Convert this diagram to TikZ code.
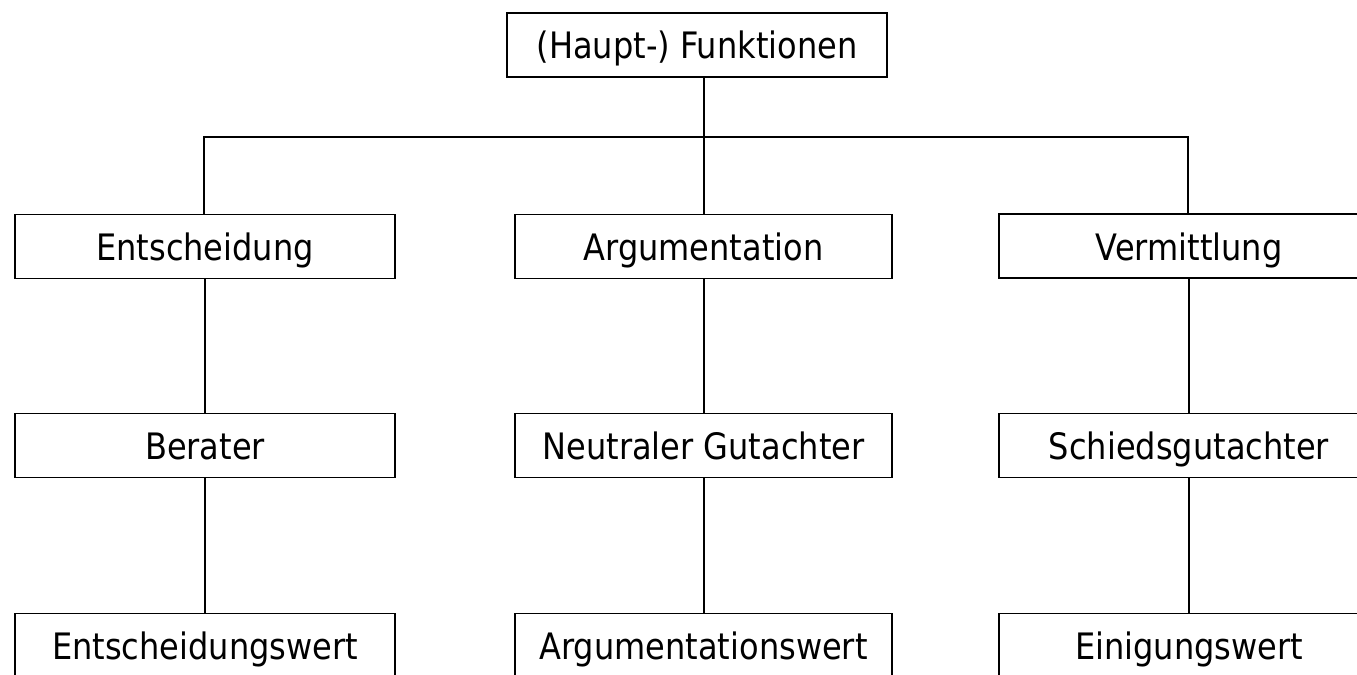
\documentclass[tikz,border=0pt]{standalone}
\usepackage{fontspec}
\setmainfont[FakeStretch=0.88]{DejaVu Sans}
\begin{document}
\begin{tikzpicture}[x=1bp,y=-1bp,
  box/.style={draw, line width=1.6bp, minimum width=380bp, minimum height=64bp,
    inner sep=0pt, text height=28bp, text depth=0pt,
    font=\fontsize{36.4bp}{40bp}\selectfont},
  link/.style={line width=1.6bp}]
\useasboundingbox (0,0) rectangle (1357,675);
\clip (0,0) rectangle (1357,675);
\node[box] (top) at (697,45) {(Haupt-) Funktionen};
\node[box] (e1) at (205,246.5) {Entscheidung};
\node[box, minimum width=377bp] (a1) at (703.5,246.5) {Argumentation};
\node[box] (v1) at (1189,246) {Vermittlung};
\node[box] (e2) at (205,445.5) {Berater};
\node[box, minimum width=377bp] (a2) at (703.5,445.5) {Neutraler Gutachter};
\node[box] (v2) at (1189,445.5) {Schiedsgutachter};
\node[box] (e3) at (205,645.5) {Entscheidungswert};
\node[box, minimum width=377bp] (a3) at (703.5,645.5) {Argumentationswert};
\node[box] (v3) at (1189,645.5) {Einigungswert};
\coordinate (hl) at (204,137);
\coordinate (hr) at (1188,137);
\coordinate (hm) at (704,137);
\draw[link] (hl |- e1.north) -- (hl) -- (hr) -- (hr |- v1.north);
\draw[link] (hm |- top.south) -- (hm |- a1.north);
\draw[link] (hm |- a1.south) -- (hm |- a2.north);
\draw[link] (hm |- a2.south) -- (hm |- a3.north);
\foreach \c in {e,v}{
  \draw[link] (\c1.south) -- (\c2.north);
  \draw[link] (\c2.south) -- (\c3.north);
}
\end{tikzpicture}
\end{document}
